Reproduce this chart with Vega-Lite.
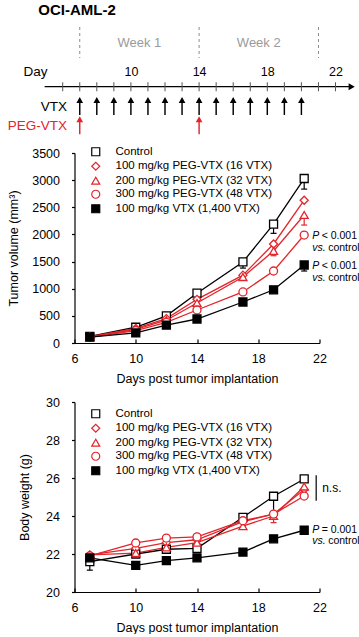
{
  "$schema": "https://vega.github.io/schema/vega-lite/v6.json",
  "background": "white",
  "padding": {"left": 6.5, "top": 2, "right": 0, "bottom": 0},
  "title": {"text": "OCI-AML-2", "anchor": "start", "fontSize": 15, "fontWeight": "bold", "font": "Liberation Sans", "color": "black", "offset": 9, "dx": 31},
  "spacing": 11,
  "resolve": {
    "scale": {"x": "independent", "y": "independent", "color": "independent", "stroke": "independent", "fill": "independent", "shape": "independent"},
    "axis": {"x": "independent", "y": "independent"},
    "legend": {"color": "independent", "stroke": "independent", "fill": "independent", "shape": "independent"}
  },
  "datasets": {
    "weeks": [
      {"kind": "line", "day": 7},
      {"kind": "line", "day": 14},
      {"kind": "line", "day": 21},
      {"kind": "label", "day": 10.5, "label": "Week 1"},
      {"kind": "label", "day": 17.5, "label": "Week 2"}
    ],
    "timeline": [{"start": 4.94, "end": 22.8, "tip": 22.95, "lane": "axis"}],
    "ticks": [
      {"day": 6, "lane": "axis"}, {"day": 7, "lane": "axis"}, {"day": 8, "lane": "axis"}, {"day": 9, "lane": "axis"},
      {"day": 10, "lane": "axis"}, {"day": 11, "lane": "axis"}, {"day": 12, "lane": "axis"}, {"day": 13, "lane": "axis"},
      {"day": 14, "lane": "axis"}, {"day": 15, "lane": "axis"}, {"day": 16, "lane": "axis"}, {"day": 17, "lane": "axis"},
      {"day": 18, "lane": "axis"}, {"day": 19, "lane": "axis"}, {"day": 20, "lane": "axis"}, {"day": 21, "lane": "axis"},
      {"day": 22, "lane": "axis"}
    ],
    "doses": [
      {"day": 7, "lane": "VTX"}, {"day": 8, "lane": "VTX"}, {"day": 9, "lane": "VTX"}, {"day": 10, "lane": "VTX"},
      {"day": 11, "lane": "VTX"}, {"day": 12, "lane": "VTX"}, {"day": 13, "lane": "VTX"}, {"day": 14, "lane": "VTX"},
      {"day": 15, "lane": "VTX"}, {"day": 16, "lane": "VTX"}, {"day": 17, "lane": "VTX"}, {"day": 18, "lane": "VTX"},
      {"day": 19, "lane": "VTX"}, {"day": 20, "lane": "VTX"},
      {"day": 7, "lane": "PEG-VTX"}, {"day": 14, "lane": "PEG-VTX"}
    ],
    "tumor": [
      {"day": 7, "group": "Control", "value": 120},
      {"day": 10, "group": "Control", "value": 290},
      {"day": 12, "group": "Control", "value": 500},
      {"day": 14, "group": "Control", "value": 918},
      {"day": 17, "group": "Control", "value": 1493, "low": 1380},
      {"day": 19, "group": "Control", "value": 2188, "low": 2020},
      {"day": 21, "group": "Control", "value": 3030, "low": 2835},
      {"day": 7, "group": "100 mg/kg PEG-VTX (16 VTX)", "value": 115},
      {"day": 10, "group": "100 mg/kg PEG-VTX (16 VTX)", "value": 270},
      {"day": 12, "group": "100 mg/kg PEG-VTX (16 VTX)", "value": 450},
      {"day": 14, "group": "100 mg/kg PEG-VTX (16 VTX)", "value": 805},
      {"day": 17, "group": "100 mg/kg PEG-VTX (16 VTX)", "value": 1250},
      {"day": 19, "group": "100 mg/kg PEG-VTX (16 VTX)", "value": 1824},
      {"day": 21, "group": "100 mg/kg PEG-VTX (16 VTX)", "value": 2630},
      {"day": 7, "group": "200 mg/kg PEG-VTX (32 VTX)", "value": 110},
      {"day": 10, "group": "200 mg/kg PEG-VTX (32 VTX)", "value": 250},
      {"day": 12, "group": "200 mg/kg PEG-VTX (32 VTX)", "value": 420},
      {"day": 14, "group": "200 mg/kg PEG-VTX (32 VTX)", "value": 737},
      {"day": 17, "group": "200 mg/kg PEG-VTX (32 VTX)", "value": 1215},
      {"day": 19, "group": "200 mg/kg PEG-VTX (32 VTX)", "value": 1695, "low": 1608},
      {"day": 21, "group": "200 mg/kg PEG-VTX (32 VTX)", "value": 2358, "low": 2173},
      {"day": 7, "group": "300 mg/kg PEG-VTX (48 VTX)", "value": 105},
      {"day": 10, "group": "300 mg/kg PEG-VTX (48 VTX)", "value": 230},
      {"day": 12, "group": "300 mg/kg PEG-VTX (48 VTX)", "value": 380},
      {"day": 14, "group": "300 mg/kg PEG-VTX (48 VTX)", "value": 608},
      {"day": 17, "group": "300 mg/kg PEG-VTX (48 VTX)", "value": 940},
      {"day": 19, "group": "300 mg/kg PEG-VTX (48 VTX)", "value": 1326},
      {"day": 21, "group": "300 mg/kg PEG-VTX (48 VTX)", "value": 1989},
      {"day": 7, "group": "100 mg/kg VTX (1,400 VTX)", "value": 110},
      {"day": 10, "group": "100 mg/kg VTX (1,400 VTX)", "value": 185},
      {"day": 12, "group": "100 mg/kg VTX (1,400 VTX)", "value": 330},
      {"day": 14, "group": "100 mg/kg VTX (1,400 VTX)", "value": 442},
      {"day": 17, "group": "100 mg/kg VTX (1,400 VTX)", "value": 755},
      {"day": 19, "group": "100 mg/kg VTX (1,400 VTX)", "value": 980},
      {"day": 21, "group": "100 mg/kg VTX (1,400 VTX)", "value": 1437, "low": 1326}
    ],
    "body": [
      {"day": 7, "group": "Control", "value": 21.6, "low": 21.15},
      {"day": 10, "group": "Control", "value": 22.0},
      {"day": 12, "group": "Control", "value": 22.25},
      {"day": 14, "group": "Control", "value": 22.3},
      {"day": 17, "group": "Control", "value": 23.93},
      {"day": 19, "group": "Control", "value": 25.04, "low": 24.2},
      {"day": 21, "group": "Control", "value": 25.95},
      {"day": 7, "group": "100 mg/kg PEG-VTX (16 VTX)", "value": 21.95},
      {"day": 10, "group": "100 mg/kg PEG-VTX (16 VTX)", "value": 22.3},
      {"day": 12, "group": "100 mg/kg PEG-VTX (16 VTX)", "value": 22.6},
      {"day": 14, "group": "100 mg/kg PEG-VTX (16 VTX)", "value": 22.75},
      {"day": 17, "group": "100 mg/kg PEG-VTX (16 VTX)", "value": 23.7},
      {"day": 19, "group": "100 mg/kg PEG-VTX (16 VTX)", "value": 24.1},
      {"day": 21, "group": "100 mg/kg PEG-VTX (16 VTX)", "value": 25.4},
      {"day": 7, "group": "200 mg/kg PEG-VTX (32 VTX)", "value": 21.95},
      {"day": 10, "group": "200 mg/kg PEG-VTX (32 VTX)", "value": 22.05},
      {"day": 12, "group": "200 mg/kg PEG-VTX (32 VTX)", "value": 22.35},
      {"day": 14, "group": "200 mg/kg PEG-VTX (32 VTX)", "value": 22.6},
      {"day": 17, "group": "200 mg/kg PEG-VTX (32 VTX)", "value": 23.47},
      {"day": 19, "group": "200 mg/kg PEG-VTX (32 VTX)", "value": 24.0, "low": 23.65},
      {"day": 21, "group": "200 mg/kg PEG-VTX (32 VTX)", "value": 25.55},
      {"day": 7, "group": "300 mg/kg PEG-VTX (48 VTX)", "value": 21.9},
      {"day": 10, "group": "300 mg/kg PEG-VTX (48 VTX)", "value": 22.58},
      {"day": 12, "group": "300 mg/kg PEG-VTX (48 VTX)", "value": 22.84},
      {"day": 14, "group": "300 mg/kg PEG-VTX (48 VTX)", "value": 22.9},
      {"day": 17, "group": "300 mg/kg PEG-VTX (48 VTX)", "value": 23.75},
      {"day": 19, "group": "300 mg/kg PEG-VTX (48 VTX)", "value": 24.1},
      {"day": 21, "group": "300 mg/kg PEG-VTX (48 VTX)", "value": 25.05},
      {"day": 7, "group": "100 mg/kg VTX (1,400 VTX)", "value": 21.8},
      {"day": 10, "group": "100 mg/kg VTX (1,400 VTX)", "value": 21.4},
      {"day": 12, "group": "100 mg/kg VTX (1,400 VTX)", "value": 21.65},
      {"day": 14, "group": "100 mg/kg VTX (1,400 VTX)", "value": 21.8},
      {"day": 17, "group": "100 mg/kg VTX (1,400 VTX)", "value": 22.1},
      {"day": 19, "group": "100 mg/kg VTX (1,400 VTX)", "value": 22.8},
      {"day": 21, "group": "100 mg/kg VTX (1,400 VTX)", "value": 23.25}
    ],
    "annotTumor": [
      {"day": 21, "value": 1989, "p": "P", "ptext": "< 0.001", "vs": "vs.", "vstext": "control"},
      {"day": 21, "value": 1437, "p": "P", "ptext": "< 0.001", "vs": "vs.", "vstext": "control"}
    ],
    "annotBody": [
      {"day": 21, "value": 23.25, "p": "P", "ptext": "= 0.001", "vs": "vs.", "vstext": "control"}
    ],
    "ns": [{"day": 21, "top": 26.15, "bottom": 24.8, "mid": 25.5, "label": "n.s."}]
  },
  "vconcat": [
    {
      "bounds": "flush",
      "spacing": 19,
      "resolve": {
        "scale": {"x": "independent", "y": "independent", "color": "independent"},
        "axis": {"x": "independent", "y": "independent"}
      },
      "vconcat": [
        {
          "width": 286,
          "height": 31,
          "data": {"name": "weeks"},
          "layer": [
            {
              "transform": [{"filter": "datum.kind === 'line'"}],
              "mark": {"type": "rule", "strokeDash": [3, 3], "color": "#8c8c8c", "strokeWidth": 1},
              "encoding": {
                "x": {"field": "day", "type": "quantitative", "scale": {"domain": [6.692, 23.466], "nice": false, "zero": false}, "axis": null}
              }
            },
            {
              "transform": [{"filter": "datum.kind === 'label'"}],
              "mark": {"type": "text", "color": "#9a9a9a", "fontSize": 13, "baseline": "middle", "font": "Liberation Sans"},
              "encoding": {
                "x": {"field": "day", "type": "quantitative"},
                "text": {"field": "label"}
              }
            }
          ]
        },
        {
          "width": 286,
          "height": 58,
          "layer": [
            {
              "data": {"name": "timeline"},
              "mark": {"type": "rule", "color": "black", "strokeWidth": 1.2},
              "encoding": {
                "x": {
                  "field": "start", "type": "quantitative",
                  "scale": {"domain": [6.692, 23.466], "nice": false, "zero": false},
                  "axis": {"orient": "top", "values": [6, 10, 14, 18, 22], "domain": false, "ticks": false, "labelPadding": 6, "labelBaseline": "middle", "labelFontSize": 12.5, "labelFlush": false, "labelOverlap": false, "title": "Day", "titleX": -39.5, "titleY": -6, "titleAlign": "center", "titleBaseline": "middle", "titleFontSize": 13.5, "titleAngle": 0}
                },
                "x2": {"field": "end"},
                "y": {
                  "field": "lane", "type": "nominal",
                  "scale": {"type": "point", "domain": ["axis", "VTX", "PEG-VTX"], "padding": 0.5},
                  "axis": {"orient": "left", "domain": false, "ticks": false, "title": null, "labelPadding": 8, "labelFontSize": 13.5, "labelExpr": "datum.value === 'axis' ? '' : datum.value", "labelColor": {"condition": {"test": "datum.value === 'PEG-VTX'", "value": "#e3242b"}, "value": "black"}}
                }
              }
            },
            {
              "data": {"name": "timeline"},
              "mark": {"type": "point", "shape": "triangle-right", "filled": true, "color": "black", "size": 50, "opacity": 1},
              "encoding": {
                "x": {"field": "tip", "type": "quantitative"},
                "y": {"field": "lane", "type": "nominal"}
              }
            },
            {
              "data": {"name": "ticks"},
              "mark": {"type": "tick", "orient": "vertical", "size": 9, "thickness": 1, "color": "#555555", "opacity": 1},
              "encoding": {
                "x": {"field": "day", "type": "quantitative"},
                "y": {"field": "lane", "type": "nominal"}
              }
            },
            {
              "data": {"name": "doses"},
              "mark": {"type": "point", "shape": "M0,-1L0.37,-0.33L0.08,-0.33L0.08,1L-0.08,1L-0.08,-0.33L-0.37,-0.33Z", "filled": true, "size": 324, "opacity": 1, "strokeWidth": 0},
              "encoding": {
                "x": {"field": "day", "type": "quantitative"},
                "y": {"field": "lane", "type": "nominal"},
                "color": {"field": "lane", "type": "nominal", "scale": {"domain": ["VTX", "PEG-VTX"], "range": ["black", "#e3242b"]}, "legend": null}
              }
            }
          ]
        }
      ]
    },
    {
      "width": 245,
      "height": 190,
      "encoding": {
        "x": {"field": "day", "type": "quantitative", "scale": {"domain": [6, 22], "nice": false, "zero": false},
          "axis": {"values": [6, 10, 14, 18, 22], "tickSize": -4, "labelPadding": 13, "labelFontSize": 12.5, "labelFlush": false, "labelOverlap": false, "title": "Days post tumor implantation", "titlePadding": 8, "titleFontSize": 12.5}},
        "y": {"field": "value", "type": "quantitative", "scale": {"domain": [0, 3500], "nice": false},
          "axis": {"values": [0, 500, 1000, 1500, 2000, 2500, 3000, 3500], "format": "d", "tickSize": 3, "labelPadding": 12, "labelFontSize": 12.5, "labelOverlap": false, "title": "Tumor volume (mm³)", "titlePadding": 11, "titleFontSize": 12.5}}
      },
      "layer": [
        {
          "data": {"name": "tumor"},
          "mark": {"type": "line", "strokeWidth": 1.3},
          "encoding": {
            "stroke": {"field": "group", "type": "nominal", "scale": {"domain": ["Control", "100 mg/kg PEG-VTX (16 VTX)", "200 mg/kg PEG-VTX (32 VTX)", "300 mg/kg PEG-VTX (48 VTX)", "100 mg/kg VTX (1,400 VTX)"], "range": ["black", "#e3242b", "#e3242b", "#e3242b", "black"]}}
          }
        },
        {
          "data": {"name": "tumor"},
          "transform": [{"filter": "isValid(datum.low)"}],
          "mark": {"type": "rule", "strokeWidth": 1.2},
          "encoding": {
            "y2": {"field": "low"},
            "stroke": {"field": "group", "type": "nominal"}
          }
        },
        {
          "data": {"name": "tumor"},
          "transform": [{"filter": "isValid(datum.low)"}],
          "mark": {"type": "point", "shape": "stroke", "size": 36, "strokeWidth": 1.2, "filled": false, "opacity": 1},
          "encoding": {
            "y": {"field": "low", "type": "quantitative"},
            "stroke": {"field": "group", "type": "nominal"}
          }
        },
        {
          "data": {"name": "tumor"},
          "mark": {"type": "point", "filled": true, "size": 64, "strokeWidth": 1.3, "opacity": 1},
          "encoding": {
            "stroke": {"field": "group", "type": "nominal", "legend": {"orient": "none", "legendX": 15.5, "legendY": -7, "title": null, "padding": 0, "symbolSize": 64, "symbolStrokeWidth": 1.2, "labelOffset": 14, "labelFontSize": 11.5, "rowPadding": 0.5, "labelLimit": 300}},
            "fill": {"field": "group", "type": "nominal", "scale": {"domain": ["Control", "100 mg/kg PEG-VTX (16 VTX)", "200 mg/kg PEG-VTX (32 VTX)", "300 mg/kg PEG-VTX (48 VTX)", "100 mg/kg VTX (1,400 VTX)"], "range": ["white", "white", "white", "white", "black"]}, "legend": {"orient": "none", "legendX": 15.5, "legendY": -7, "title": null, "padding": 0, "symbolSize": 64, "symbolStrokeWidth": 1.2, "labelOffset": 14, "labelFontSize": 11.5, "rowPadding": 0.5, "labelLimit": 300}},
            "shape": {"field": "group", "type": "nominal", "scale": {"domain": ["Control", "100 mg/kg PEG-VTX (16 VTX)", "200 mg/kg PEG-VTX (32 VTX)", "300 mg/kg PEG-VTX (48 VTX)", "100 mg/kg VTX (1,400 VTX)"], "range": ["square", "diamond", "triangle-up", "circle", "square"]}, "legend": {"orient": "none", "legendX": 15.5, "legendY": -7, "title": null, "padding": 0, "symbolSize": 64, "symbolStrokeWidth": 1.2, "labelOffset": 14, "labelFontSize": 11.5, "rowPadding": 0.5, "labelLimit": 300}}
          }
        },
        {
          "data": {"name": "annotTumor"},
          "mark": {"type": "text", "align": "left", "baseline": "middle", "fontSize": 10.5, "fontStyle": "italic", "dx": 8, "dy": 1},
          "encoding": {"text": {"field": "p"}}
        },
        {
          "data": {"name": "annotTumor"},
          "mark": {"type": "text", "align": "left", "baseline": "middle", "fontSize": 10.5, "dx": 17.5, "dy": 1},
          "encoding": {"text": {"field": "ptext"}}
        },
        {
          "data": {"name": "annotTumor"},
          "mark": {"type": "text", "align": "left", "baseline": "middle", "fontSize": 10.5, "fontStyle": "italic", "dx": 8, "dy": 13},
          "encoding": {"text": {"field": "vs"}}
        },
        {
          "data": {"name": "annotTumor"},
          "mark": {"type": "text", "align": "left", "baseline": "middle", "fontSize": 10.5, "dx": 24, "dy": 13, "limit": 32, "ellipsis": ""},
          "encoding": {"text": {"field": "vstext"}}
        }
      ]
    },
    {
      "width": 245,
      "height": 190,
      "encoding": {
        "x": {"field": "day", "type": "quantitative", "scale": {"domain": [6, 22], "nice": false, "zero": false},
          "axis": {"values": [6, 10, 14, 18, 22], "tickSize": -4, "labelPadding": 13, "labelFontSize": 12.5, "labelFlush": false, "labelOverlap": false, "title": "Days post tumor implantation", "titlePadding": 8, "titleFontSize": 12.5}},
        "y": {"field": "value", "type": "quantitative", "scale": {"domain": [20, 30], "nice": false, "zero": false},
          "axis": {"values": [20, 22, 24, 26, 28, 30], "tickSize": 3, "labelPadding": 12, "labelFontSize": 12.5, "labelOverlap": false, "title": "Body weight (g)", "titlePadding": 14, "titleFontSize": 12.5}}
      },
      "layer": [
        {
          "data": {"name": "body"},
          "mark": {"type": "line", "strokeWidth": 1.3},
          "encoding": {
            "stroke": {"field": "group", "type": "nominal", "scale": {"domain": ["Control", "100 mg/kg PEG-VTX (16 VTX)", "200 mg/kg PEG-VTX (32 VTX)", "300 mg/kg PEG-VTX (48 VTX)", "100 mg/kg VTX (1,400 VTX)"], "range": ["black", "#e3242b", "#e3242b", "#e3242b", "black"]}}
          }
        },
        {
          "data": {"name": "body"},
          "transform": [{"filter": "isValid(datum.low)"}],
          "mark": {"type": "rule", "strokeWidth": 1.2},
          "encoding": {
            "y2": {"field": "low"},
            "stroke": {"field": "group", "type": "nominal"}
          }
        },
        {
          "data": {"name": "body"},
          "transform": [{"filter": "isValid(datum.low)"}],
          "mark": {"type": "point", "shape": "stroke", "size": 36, "strokeWidth": 1.2, "filled": false, "opacity": 1},
          "encoding": {
            "y": {"field": "low", "type": "quantitative"},
            "stroke": {"field": "group", "type": "nominal"}
          }
        },
        {
          "data": {"name": "body"},
          "mark": {"type": "point", "filled": true, "size": 64, "strokeWidth": 1.3, "opacity": 1},
          "encoding": {
            "stroke": {"field": "group", "type": "nominal", "legend": {"orient": "none", "legendX": 15.5, "legendY": 6, "title": null, "padding": 0, "symbolSize": 64, "symbolStrokeWidth": 1.2, "labelOffset": 14, "labelFontSize": 11.5, "rowPadding": 0.5, "labelLimit": 300}},
            "fill": {"field": "group", "type": "nominal", "scale": {"domain": ["Control", "100 mg/kg PEG-VTX (16 VTX)", "200 mg/kg PEG-VTX (32 VTX)", "300 mg/kg PEG-VTX (48 VTX)", "100 mg/kg VTX (1,400 VTX)"], "range": ["white", "white", "white", "white", "black"]}, "legend": {"orient": "none", "legendX": 15.5, "legendY": 6, "title": null, "padding": 0, "symbolSize": 64, "symbolStrokeWidth": 1.2, "labelOffset": 14, "labelFontSize": 11.5, "rowPadding": 0.5, "labelLimit": 300}},
            "shape": {"field": "group", "type": "nominal", "scale": {"domain": ["Control", "100 mg/kg PEG-VTX (16 VTX)", "200 mg/kg PEG-VTX (32 VTX)", "300 mg/kg PEG-VTX (48 VTX)", "100 mg/kg VTX (1,400 VTX)"], "range": ["square", "diamond", "triangle-up", "circle", "square"]}, "legend": {"orient": "none", "legendX": 15.5, "legendY": 6, "title": null, "padding": 0, "symbolSize": 64, "symbolStrokeWidth": 1.2, "labelOffset": 14, "labelFontSize": 11.5, "rowPadding": 0.5, "labelLimit": 300}}
          }
        },
        {
          "data": {"name": "annotBody"},
          "mark": {"type": "text", "align": "left", "baseline": "middle", "fontSize": 10.5, "fontStyle": "italic", "dx": 8, "dy": 0},
          "encoding": {"text": {"field": "p"}}
        },
        {
          "data": {"name": "annotBody"},
          "mark": {"type": "text", "align": "left", "baseline": "middle", "fontSize": 10.5, "dx": 17.5, "dy": 0},
          "encoding": {"text": {"field": "ptext"}}
        },
        {
          "data": {"name": "annotBody"},
          "mark": {"type": "text", "align": "left", "baseline": "middle", "fontSize": 10.5, "fontStyle": "italic", "dx": 8, "dy": 11},
          "encoding": {"text": {"field": "vs"}}
        },
        {
          "data": {"name": "annotBody"},
          "mark": {"type": "text", "align": "left", "baseline": "middle", "fontSize": 10.5, "dx": 24, "dy": 11, "limit": 32, "ellipsis": ""},
          "encoding": {"text": {"field": "vstext"}}
        },
        {
          "data": {"name": "ns"},
          "mark": {"type": "rule", "color": "black", "strokeWidth": 1.2, "xOffset": 12},
          "encoding": {"y": {"field": "top", "type": "quantitative"}, "y2": {"field": "bottom"}}
        },
        {
          "data": {"name": "ns"},
          "mark": {"type": "text", "align": "left", "baseline": "middle", "fontSize": 12, "dx": 18},
          "encoding": {"y": {"field": "mid", "type": "quantitative"}, "text": {"field": "label"}}
        }
      ]
    }
  ],
  "config": {
    "font": "Liberation Sans",
    "view": {"stroke": null},
    "axis": {"grid": false, "labelOverlap": false, "domainColor": "black", "domainWidth": 1.2, "tickColor": "black", "tickWidth": 1.2, "labelColor": "black", "titleColor": "black", "titleFontWeight": "normal", "labelFont": "Liberation Sans", "titleFont": "Liberation Sans"},
    "legend": {"labelFont": "Liberation Sans", "labelColor": "black"},
    "text": {"font": "Liberation Sans", "color": "black"}
  }
}
